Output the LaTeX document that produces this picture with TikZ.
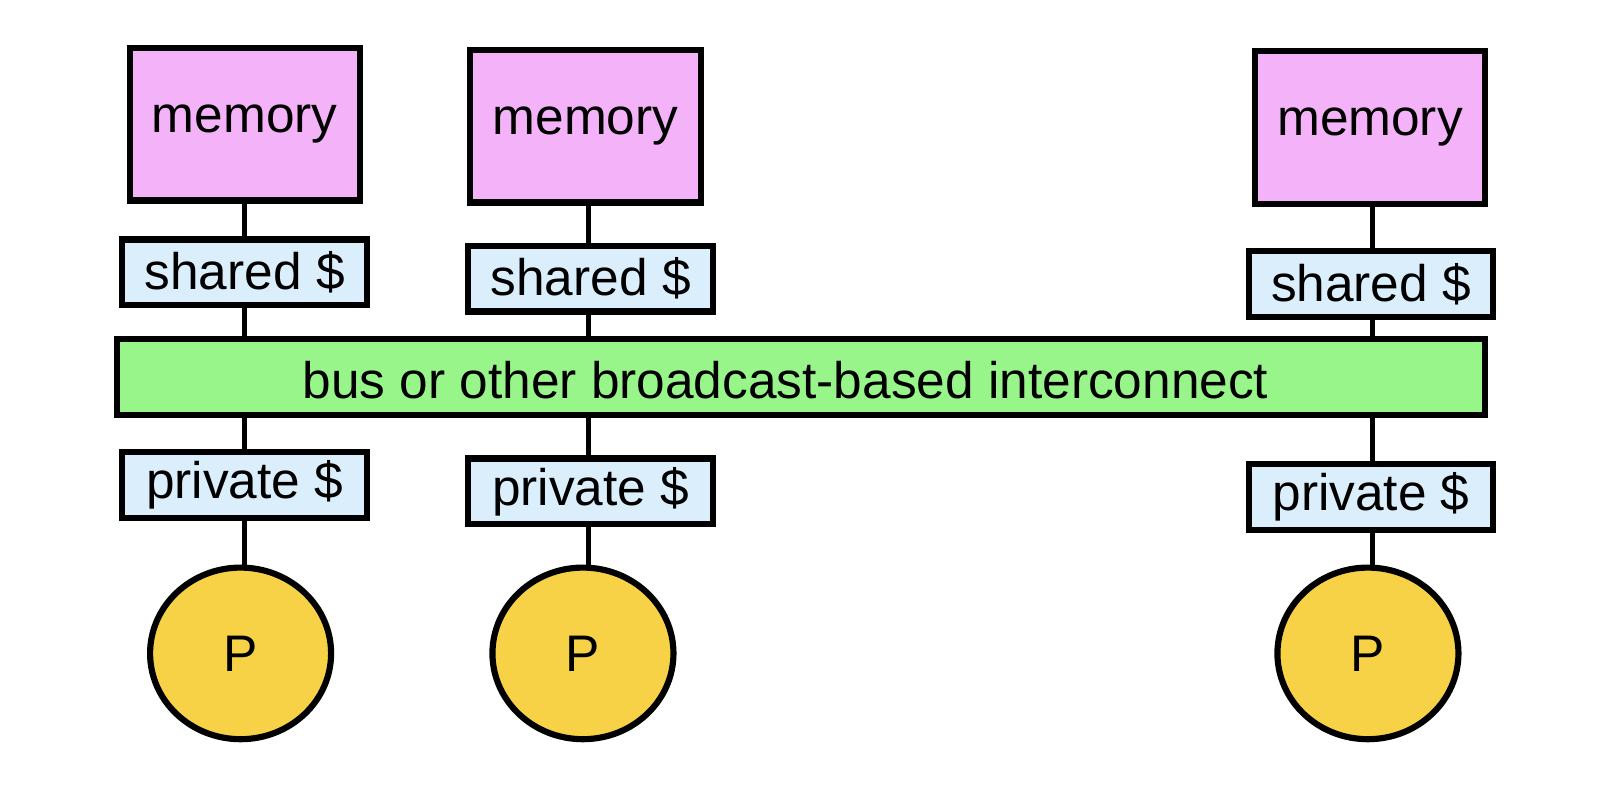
\documentclass[tikz,border=0pt]{standalone}
\usepackage{fontspec}
\setmainfont{Liberation Sans}
\usetikzlibrary{backgrounds,shapes.geometric}
\definecolor{mempink}{HTML}{F4B3F8}
\definecolor{cacheblue}{HTML}{DAEEFB}
\definecolor{busgreen}{HTML}{98F58A}
\definecolor{procyellow}{HTML}{F7D247}
\tikzset{
  box/.style={draw=black, line width=3.08pt, inner sep=0pt, font=\fontsize{25.7}{30}\selectfont},
  memory/.style={box, fill=mempink, minimum width=115.1pt, minimum height=76.1pt},
  cache/.style={box, fill=cacheblue, minimum width=122.3pt, minimum height=32.9pt},
  busbox/.style={box, fill=busgreen, minimum width=683.6pt, minimum height=38pt},
  proc/.style={box, ellipse, fill=procyellow, minimum width=90.5pt, minimum height=85.8pt},
  lbl/.style={font=\fontsize{25.7}{30}\selectfont, inner sep=0pt},
  wire/.style={line width=2.57pt}
}
\begin{document}
\begin{tikzpicture}[x=0.514pt, y=-0.514pt]
\useasboundingbox (0,0) rectangle (1564,768.5);
\coordinate (c1) at (238,0);
\coordinate (c2) at (572,0);
\coordinate (c3) at (1335,0);
% memories
\node[memory] (m1) at (238,121) {memory};
\node[memory] (m2) at (569.5,123) {memory};
\node[memory] (m3) at (1332.5,124) {memory};
% shared caches
\node[cache] (s1) at (238,265) {shared \$};
\node[cache] (s2) at (574.5,271) {shared \$};
\node[cache] (s3) at (1333.5,276.5) {shared \$};
% bus
\node[busbox] (bus) at (779,367) {};
\node[lbl] (bustext) at (764,370) {bus or other broadcast-based interconnect};
% private caches
\node[cache] (q1) at (238,472) {private \$};
\node[cache] (q2) at (574.5,478) {private \$};
\node[cache] (q3) at (1333.5,483.5) {private \$};
% processors
\node[proc] (p1) at (234,635.5) {P};
\node[proc] (p2) at (567,635.5) {P};
\node[proc] (p3) at (1330.5,635.5) {P};
\begin{pgfonlayer}{background}
\foreach \i in {1,2,3} {
  \draw[wire] (c\i |- m\i.center) -- (c\i |- s\i.center);
  \draw[wire] (c\i |- s\i.center) -- (c\i |- bus.center);
  \draw[wire] (c\i |- bus.center) -- (c\i |- q\i.center);
  \draw[wire] (c\i |- q\i.center) -- (c\i |- p\i.center);
}
\end{pgfonlayer}
\end{tikzpicture}
\end{document}
